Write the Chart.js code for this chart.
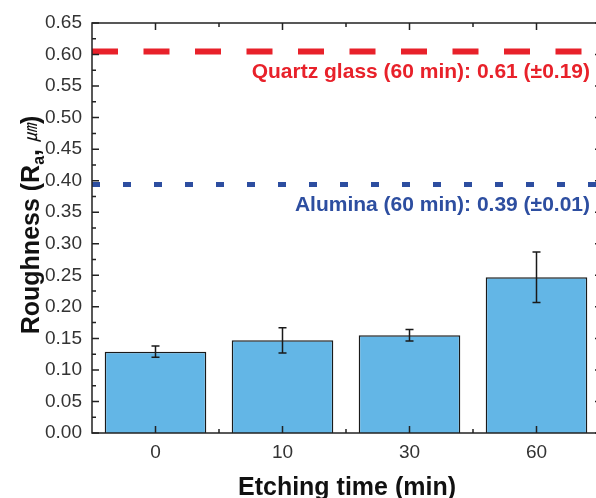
<!DOCTYPE html>
<html>
<head>
<meta charset="utf-8">
<script src="https://cdn.jsdelivr.net/npm/chart.js@4/dist/chart.umd.min.js"></script>
<style>
  html, body { margin: 0; padding: 0; background: #fff; overflow: hidden; }
  #wrap { width: 596px; height: 498px; overflow: hidden; }
</style>
</head>
<body>
<div id="wrap"><canvas id="bar-chart" width="604" height="498"></canvas></div>
<script>
// etching time vs roughness
const times = ['0', '10', '30', '60'];
const roughness = [0.129, 0.147, 0.155, 0.247];
const roughnessErr = [0.009, 0.02, 0.009, 0.04];

// reference lines (60 min on other substrates)
const refValues = [0.605, 0.394];
const refLabels = ['Quartz glass (60 min): 0.61 (\u00b10.19)', 'Alumina (60 min): 0.39 (\u00b10.01)'];
const refColors = ['#e8212a', '#2d4ea0'];

const yTicks = [0, 0.05, 0.1, 0.15, 0.2, 0.25, 0.3, 0.35, 0.4, 0.45, 0.5, 0.55, 0.6, 0.65];

const fontFam = '"Liberation Sans", Arial, sans-serif';
const axisColor = '#222';

const extras = {
    id: 'extras',
    afterDatasetsDraw(chart) {
        const ctx = chart.ctx;
        const area = chart.chartArea;
        const x = chart.scales.x;
        const y = chart.scales.y;
        ctx.save();

        // error bars
        const meta = chart.getDatasetMeta(0);
        ctx.strokeStyle = '#1a1a1a';
        ctx.lineWidth = 1.5;
        meta.data.forEach((bar, i) => {
            const top = y.getPixelForValue(roughness[i] + roughnessErr[i]);
            const bot = y.getPixelForValue(roughness[i] - roughnessErr[i]);
            ctx.beginPath();
            ctx.moveTo(bar.x, top);
            ctx.lineTo(bar.x, bot);
            ctx.moveTo(bar.x - 4, top);
            ctx.lineTo(bar.x + 4, top);
            ctx.moveTo(bar.x - 4, bot);
            ctx.lineTo(bar.x + 4, bot);
            ctx.stroke();
        });

        // reference lines
        const dashes = [[26, 25.5], [8, 23]];
        const widths = [6, 5];
        refValues.forEach((v, i) => {
            const py = y.getPixelForValue(v);
            ctx.strokeStyle = refColors[i];
            ctx.lineWidth = widths[i];
            ctx.setLineDash(dashes[i]);
            ctx.beginPath();
            ctx.moveTo(area.left, py);
            ctx.lineTo(area.right, py);
            ctx.stroke();
        });
        ctx.setLineDash([]);

        // labels for reference lines
        ctx.font = 'bold 21px ' + fontFam;
        ctx.textAlign = 'right';
        ctx.textBaseline = 'middle';
        refValues.forEach((v, i) => {
            ctx.fillStyle = refColors[i];
            ctx.fillText(refLabels[i], 590, y.getPixelForValue(v) + 21);
        });

        // frame
        ctx.strokeStyle = axisColor;
        ctx.lineWidth = 1.5;
        ctx.strokeRect(area.left, area.top, area.right - area.left, area.bottom - area.top);

        // inward ticks on y
        ctx.beginPath();
        yTicks.forEach((v, i) => {
            const py = y.getPixelForValue(v);
            ctx.moveTo(area.left, py); ctx.lineTo(area.left + 7, py);
            ctx.moveTo(area.right, py); ctx.lineTo(area.right - 5, py);
            if (i < yTicks.length - 1) {
                const pm = y.getPixelForValue(v + 0.025);
                ctx.moveTo(area.left, pm); ctx.lineTo(area.left + 4, pm);
                ctx.moveTo(area.right, pm); ctx.lineTo(area.right - 3, pm);
            }
        });
        // inward ticks on x
        times.forEach((t, i) => {
            const px = x.getPixelForValue(i);
            ctx.moveTo(px, area.bottom); ctx.lineTo(px, area.bottom - 7);
            ctx.moveTo(px, area.top); ctx.lineTo(px, area.top + 7);
            if (i > 0) {
                const pm = (px + x.getPixelForValue(i - 1)) / 2;
                ctx.moveTo(pm, area.bottom); ctx.lineTo(pm, area.bottom - 4);
                ctx.moveTo(pm, area.top); ctx.lineTo(pm, area.top + 4);
            }
        });
        ctx.stroke();

        // axis titles
        ctx.fillStyle = '#111';
        ctx.textAlign = 'center';
        ctx.textBaseline = 'alphabetic';
        ctx.font = 'bold 25px ' + fontFam;
        ctx.fillText('Etching time (min)', 347, 495);

        // y title with subscript
        const parts = [
            { t: 'Roughness (R', f: 'bold 25px ' + fontFam, dy: 0 },
            { t: 'a', f: 'bold 16px ' + fontFam, dy: 5 },
            { t: ', ', f: 'bold 25px ' + fontFam, dy: 0 },
            { t: '\u339b', f: 'italic 18px "Noto Sans CJK JP", ' + fontFam, dy: -2 },
            { t: ')', f: 'bold 25px ' + fontFam, dy: 0 }
        ];
        let total = 0;
        parts.forEach(p => { ctx.font = p.f; p.w = ctx.measureText(p.t).width; total += p.w; });
        ctx.translate(39, 225);
        ctx.rotate(-Math.PI / 2);
        ctx.textAlign = 'left';
        let cx = -total / 2;
        parts.forEach(p => {
            ctx.font = p.f;
            ctx.fillText(p.t, cx, p.dy);
            cx += p.w;
        });
        ctx.restore();
    }
};

const ctx = document.getElementById('bar-chart').getContext('2d');
new Chart(ctx, {
    type: 'bar',
    data: {
        labels: times,
        datasets: [{
            data: roughness,
            backgroundColor: '#63b6e6',
            borderColor: '#1a1a1a',
            borderWidth: 1.5,
            barPercentage: 0.8,
            categoryPercentage: 1.0
        }]
    },
    options: {
        responsive: false,
        animation: false,
        layout: { padding: { top: 23, right: 4, left: 0, bottom: 0 } },
        plugins: {
            legend: { display: false },
            tooltip: { enabled: false }
        },
        scales: {
            x: {
                grid: { display: false, drawTicks: false },
                border: { display: false },
                ticks: { color: '#333', padding: 8, font: { family: fontFam, size: 19 } },
                afterFit: s => { s.height = 65; }
            },
            y: {
                min: 0,
                max: 0.65,
                grid: { display: false, drawTicks: false },
                border: { display: false },
                ticks: {
                    stepSize: 0.05,
                    color: '#333',
                    padding: 10,
                    font: { family: fontFam, size: 19 },
                    callback: v => v.toFixed(2)
                },
                afterFit: s => { s.width = 92; }
            }
        }
    },
    plugins: [extras]
});
</script>
</body>
</html>
